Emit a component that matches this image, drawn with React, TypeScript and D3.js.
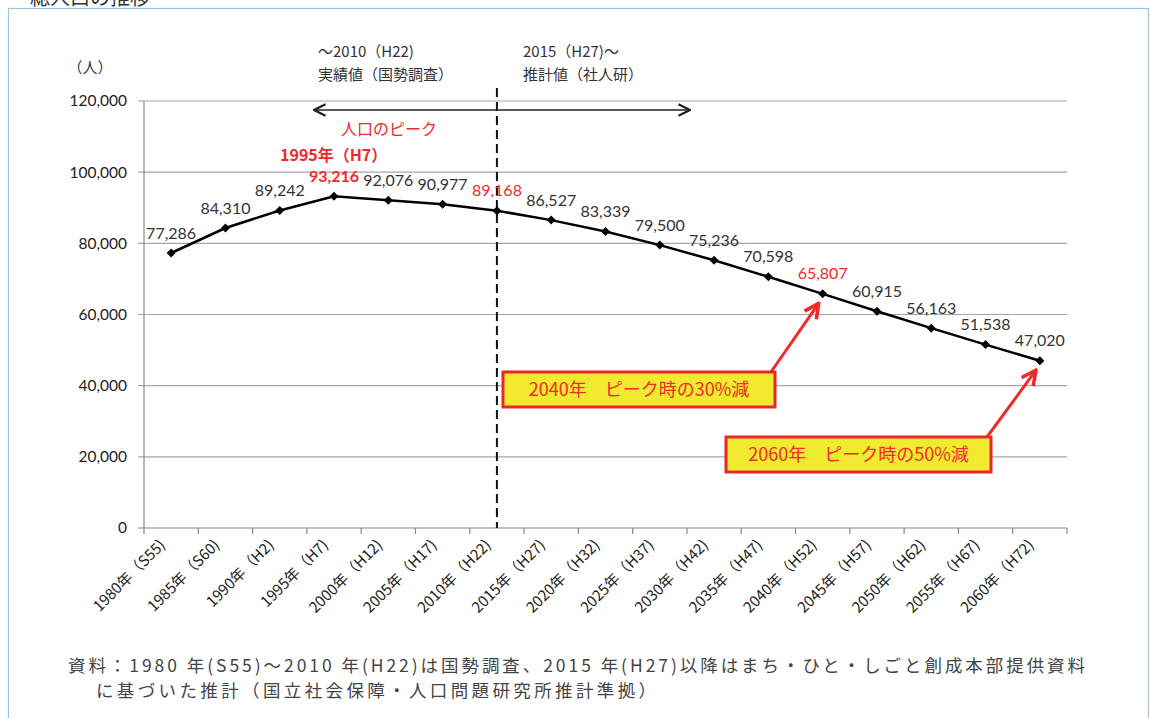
import React from "react";
import * as d3 from "d3";

const years = ["1980", "1985", "1990", "1995", "2000", "2005", "2010", "2015", "2020", "2025", "2030", "2035", "2040", "2045", "2050", "2055", "2060"];
const eras = ["S55", "S60", "H2", "H7", "H12", "H17", "H22", "H27", "H32", "H37", "H42", "H47", "H52", "H57", "H62", "H67", "H72"];
const population = [77286, 84310, 89242, 93216, 92076, 90977, 89168, 86527, 83339, 79500, 75236, 70598, 65807, 60915, 56163, 51538, 47020];
const redLabels = ["1995", "2010", "2040"];
const yTicks = [0, 20000, 40000, 60000, 80000, 100000, 120000];

const callouts = [
  { year: "2040", text: "2040年　ピーク時の30%減" },
  { year: "2060", text: "2060年　ピーク時の50%減" },
];

const W = 1150, H = 718;
const x = d3.scaleBand().domain(years).range([144, 1067]).padding(0);
const y = d3.scaleLinear().domain([0, 120000]).range([528, 101]);
const cx = (yr: string) => (x(yr) as number) + x.bandwidth() / 2;

const numFont = "Lato, 'Open Sans', sans-serif";
const jpFont = "'Noto Sans CJK JP', 'Noto Sans', sans-serif";

export default function App() {
  const pts = years.map((yr, i) => ({ yr, v: population[i], px: cx(yr), py: y(population[i]) }));
  const line = d3.line<any>().x((d) => d.px).y((d) => d.py);
  const fmt = d3.format(",");
  const splitX = cx("2010");

  // callout box geometry (box + arrow to point)
  const boxes = [
    { x0: 503, y0: 372, w: 272, h: 35 },
    { x0: 726, y0: 437, w: 265, h: 35 },
  ];

  return (
    <svg width={W} height={H} style={{ position: "absolute", left: 0, top: 0, background: "#fff" }}>
      <defs>
        <marker id="blk" viewBox="0 0 10 10" refX="9" refY="5" markerWidth="9" markerHeight="9" orient="auto-start-reverse">
          <path d="M1,1 L9,5 L1,9" fill="none" stroke="#222" strokeWidth="1.6" />
        </marker>
        <marker id="red" viewBox="0 0 10 10" refX="8" refY="5" markerWidth="6" markerHeight="6" orient="auto">
          <path d="M1,1 L9,5 L1,9" fill="none" stroke="#ee2a2a" strokeWidth="2" />
        </marker>
      </defs>

      {/* title, cut at the top edge as in the source scan + frame */}
      <text x={30} y={5} fontFamily={jpFont} fontSize={20} fill="#333">総人口の推移</text>
      <rect x={8.5} y={8.5} width={1140} height={800} fill="none" stroke="#9cc3e0" strokeWidth={1.2} />

      {/* gridlines */}
      {yTicks.map((t) => (
        <g key={t}>
          <line x1={138} x2={1067} y1={y(t)} y2={y(t)} stroke={t === 0 ? "#888" : "#a6a6a6"} strokeWidth={1.2} />
          <text x={127} y={y(t)} dy="0.35em" textAnchor="end" fontFamily={numFont} fontSize={15.5} fill="#222">{fmt(t)}</text>
        </g>
      ))}
      <line x1={144} x2={144} y1={101} y2={528} stroke="#888" strokeWidth={1.2} />
      <text x={90} y={73} textAnchor="middle" fontFamily={jpFont} fontSize={15} fill="#333">（人）</text>

      {/* x ticks + labels */}
      {years.map((yr, i) => (
        <g key={yr}>
          <line x1={x(yr)} x2={x(yr)} y1={528} y2={534} stroke="#888" strokeWidth={1.2} />
          <text transform={`translate(${cx(yr) - 5},${546}) rotate(-45)`} textAnchor="end" fontFamily={jpFont} fontSize={15} fill="#222">
            {`${yr}年（${eras[i]})`}
          </text>
        </g>
      ))}
      <line x1={1067} x2={1067} y1={528} y2={534} stroke="#888" strokeWidth={1.2} />

      {/* period split */}
      <line x1={splitX} x2={splitX} y1={88} y2={528} stroke="#111" strokeWidth={2} strokeDasharray="9,5" />
      <text x={318} y={57} fontFamily={jpFont} fontSize={15} fill="#333">～2010（H22)</text>
      <text x={318} y={80} fontFamily={jpFont} fontSize={15} fill="#333">実績値（国勢調査）</text>
      <text x={523} y={57} fontFamily={jpFont} fontSize={15} fill="#333">2015（H27)～</text>
      <text x={523} y={80} fontFamily={jpFont} fontSize={15} fill="#333">推計値（社人研）</text>
      <line x1={314} x2={690} y1={110} y2={110} stroke="#222" strokeWidth={1.6} markerStart="url(#blk)" markerEnd="url(#blk)" />

      {/* peak note */}
      <text x={341} y={135} fontFamily={jpFont} fontSize={16} fill="#ee2a2a">人口のピーク</text>
      <text x={280} y={161} fontFamily={jpFont} fontSize={16} fontWeight="bold" fill="#ee2a2a">1995年（H7）</text>

      {/* line + markers */}
      <path d={line(pts) || ""} fill="none" stroke="#000" strokeWidth={2.5} />
      {pts.map((p) => (
        <path key={p.yr} d={`M${p.px},${p.py - 4.5}L${p.px + 4.5},${p.py}L${p.px},${p.py + 4.5}L${p.px - 4.5},${p.py}Z`} fill="#000" />
      ))}
      {pts.map((p) => {
        const red = redLabels.includes(p.yr);
        return (
          <text key={"l" + p.yr} x={p.px} y={p.py - 20} dy="0.35em" textAnchor="middle" fontFamily={numFont}
            fontSize={16} fontWeight={p.yr === "1995" ? "bold" : "normal"} fill={red ? "#ee2a2a" : "#333"}>
            {fmt(p.v)}
          </text>
        );
      })}

      {/* callouts */}
      {callouts.map((c, i) => {
        const b = boxes[i];
        const tx = cx(c.year) - 5, ty = y(population[years.indexOf(c.year)]) + 11;
        return (
          <g key={c.year}>
            <line x1={b.x0 + b.w - 4} y1={b.y0} x2={tx} y2={ty} stroke="#ee2a2a" strokeWidth={3} markerEnd="url(#red)" />
            <rect x={b.x0} y={b.y0} width={b.w} height={b.h} fill="#f2ea2e" stroke="#e8262c" strokeWidth={3} />
            <text x={b.x0 + b.w / 2} y={b.y0 + b.h / 2} dy="0.35em" textAnchor="middle" fontFamily={jpFont} fontSize={18} fill="#ee2a2a">
              {c.text}
            </text>
          </g>
        );
      })}

      {/* source */}
      <text x={68} y={672} fontFamily={jpFont} fontSize={17.5} fill="#444" textLength={1017} lengthAdjust="spacing">
        資料：1980 年(S55)～2010 年(H22)は国勢調査、2015 年(H27)以降はまち・ひと・しごと創成本部提供資料
      </text>
      <text x={96} y={697} fontFamily={jpFont} fontSize={17.5} fill="#444" textLength={560} lengthAdjust="spacing">
        に基づいた推計（国立社会保障・人口問題研究所推計準拠）
      </text>
    </svg>
  );
}
